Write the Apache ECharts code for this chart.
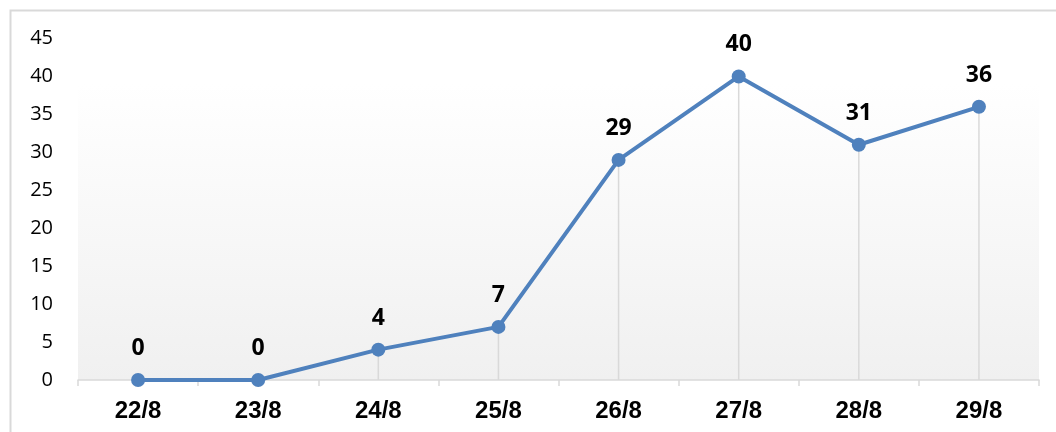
<!DOCTYPE html>
<html><head><meta charset="utf-8">
<script src="https://cdn.jsdelivr.net/npm/echarts@6/dist/echarts.min.js"></script>
<style>html,body{margin:0;padding:0;background:#fff}#c{width:1056px;height:432px}</style>
</head><body><div id="c"></div>
<script>
const categories = ['22/8','23/8','24/8','25/8','26/8','27/8','28/8','29/8'];
const values = [0, 0, 4, 7, 29, 40, 31, 36];
const yTicks = {min: 0, max: 45, interval: 5};

const chart = echarts.init(document.getElementById('c'));
chart.setOption({
  animation: false,
  backgroundColor: '#ffffff',
  graphic: [
    {type: 'rect', shape: {x: 10.5, y: 10.5, width: 1100, height: 500}, style: {fill: 'none', stroke: '#d9d9d9', lineWidth: 2}, z: -10},
    {type: 'rect', shape: {x: 78, y: 84, width: 961, height: 296},
     style: {fill: new echarts.graphic.LinearGradient(0, 0, 0, 1, [{offset: 0, color: '#ffffff'}, {offset: 1, color: '#f0f0f0'}])}, z: -9}
  ],
  grid: {left: 78, right: 17, top: 38.5, bottom: 52, containLabel: false},
  xAxis: {
    type: 'category', data: categories, boundaryGap: true,
    axisLine: {lineStyle: {color: '#d9d9d9', width: 1.5}},
    axisTick: {show: true, length: 6, lineStyle: {color: '#d9d9d9', width: 1.5}},
    axisLabel: {color: '#000', fontFamily: 'Liberation Sans', fontWeight: 'bold', fontSize: 24, margin: 19},
    splitLine: {show: false}
  },
  yAxis: {
    type: 'value', min: yTicks.min, max: yTicks.max, interval: yTicks.interval,
    axisLine: {show: false}, axisTick: {show: false},
    splitLine: {show: false},
    axisLabel: {color: '#000', fontFamily: 'Open Sans', fontSize: 20, margin: 25}
  },
  series: [
    {type: 'bar', data: values, barWidth: 1.5, itemStyle: {color: '#d9d9d9'}, silent: true, z: 1},
    {type: 'line', data: values, symbol: 'circle', symbolSize: 14,
     lineStyle: {color: '#4f81bd', width: 4}, itemStyle: {color: '#4f81bd'}, z: 3,
     label: {show: true, position: 'top', distance: 13, color: '#000', fontFamily: 'Open Sans', fontWeight: 'bold', fontSize: 23}}
  ]
});
</script></body></html>
